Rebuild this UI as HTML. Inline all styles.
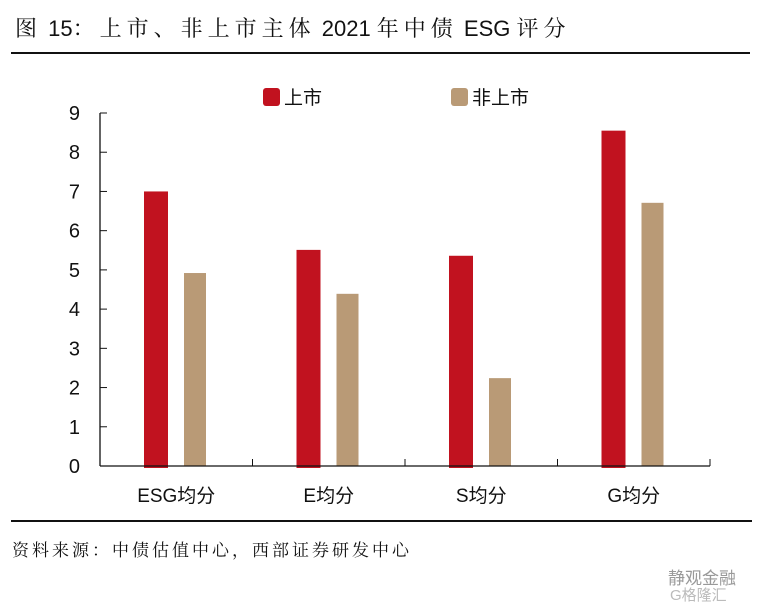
<!DOCTYPE html>
<html><head><meta charset="utf-8"><style>
body{margin:0;background:#fff;width:766px;height:609px;overflow:hidden;position:relative;font-family:"Liberation Sans","Noto Sans CJK SC",sans-serif}
.t{position:absolute;white-space:nowrap}
.s{letter-spacing:5px}
</style></head><body>
<div class="t" style="left:15px;top:12px;font-size:22px;font-family:'Liberation Sans','Noto Serif CJK SC',serif;color:#111"><span class="s">图</span> 15<span class="s">：上市、非上市主体</span> 2021 <span class="s">年中债</span> ESG <span class="s">评分</span></div>
<div style="position:absolute;left:11px;top:52px;width:739px;height:2px;background:#111"></div>
<svg id="c" width="766" height="609" style="position:absolute;left:0;top:0"></svg>
<div style="position:absolute;left:11px;top:520px;width:741px;height:2px;background:#111"></div>
<div class="t" style="left:12px;top:536px;font-size:17px;letter-spacing:3px;font-family:'Liberation Serif','Noto Serif CJK SC',serif;color:#111">资料来源：中债估值中心，西部证券研发中心</div>
<div class="t" style="left:668px;top:564px;font-size:17px;color:#999">静观金融</div>
<div class="t" style="left:670px;top:584px;font-size:15px;color:#bbb">G格隆汇</div>
<script>
const categories=["ESG均分","E均分","S均分","G均分"];
const listed=[7.0,5.51,5.36,8.55];
const unlisted=[4.92,4.39,2.24,6.71];
const yTicks=[0,1,2,3,4,5,6,7,8,9];
const seriesNames=["上市","非上市"];
const svg=document.getElementById('c');const NS='http://www.w3.org/2000/svg';
const x0=100,x1=710,y0=466,yTop=113,yMax=9;
const y=v=>y0-(y0-yTop)*v/yMax;
const bw=(x1-x0)/categories.length;
function el(t,a,name){const e=document.createElementNS(NS,t);for(const k in a)e.setAttribute(k,a[k]);


svg.appendChild(e);return e;}
categories.forEach((c,i)=>{
const cx=x0+bw*i;
el('rect',{x:cx+44,y:y(listed[i]),width:24,height:y0-y(listed[i])+2,fill:'#c1121f'},'bar-listed-'+i);
el('rect',{x:cx+84,y:y(unlisted[i]),width:22,height:y0-y(unlisted[i]),fill:'#b99a76'},'bar-unlisted-'+i);
const t=el('text',{x:cx+bw/2,y:502,'text-anchor':'middle','font-size':19,fill:'#111'},'x-label-'+i);t.textContent=c;
});
el('line',{x1:x0,y1:yTop,x2:x0,y2:y0,stroke:'#111','stroke-width':1.3},'y-axis');
el('line',{x1:x0,y1:y0,x2:x1,y2:y0,stroke:'#111','stroke-width':1.3},'x-axis');
for(let i=0;i<=categories.length;i++){const xx=x0+bw*i;el('line',{x1:xx,y1:y0,x2:xx,y2:y0-7,stroke:'#111','stroke-width':1},'x-tick-'+i);}
yTicks.forEach(v=>{el('line',{x1:x0,y1:y(v),x2:x0+7,y2:y(v),stroke:'#111','stroke-width':1},'y-tick-'+v);
const t=el('text',{x:80,y:y(v)+7,'text-anchor':'end','font-size':20,fill:'#111'},'y-tick-label-'+v);t.textContent=v;});
el('rect',{x:263,y:88,width:17,height:18,rx:3,fill:'#c1121f'},'legend-swatch-listed');
let t=el('text',{x:284,y:104,'font-size':19,fill:'#111'},'legend-label-listed');t.textContent=seriesNames[0];
el('rect',{x:451,y:88,width:17,height:18,rx:3,fill:'#b99a76'},'legend-swatch-unlisted');
t=el('text',{x:472,y:104,'font-size':19,fill:'#111'},'legend-label-unlisted');t.textContent=seriesNames[1];
</script>
</body></html>
